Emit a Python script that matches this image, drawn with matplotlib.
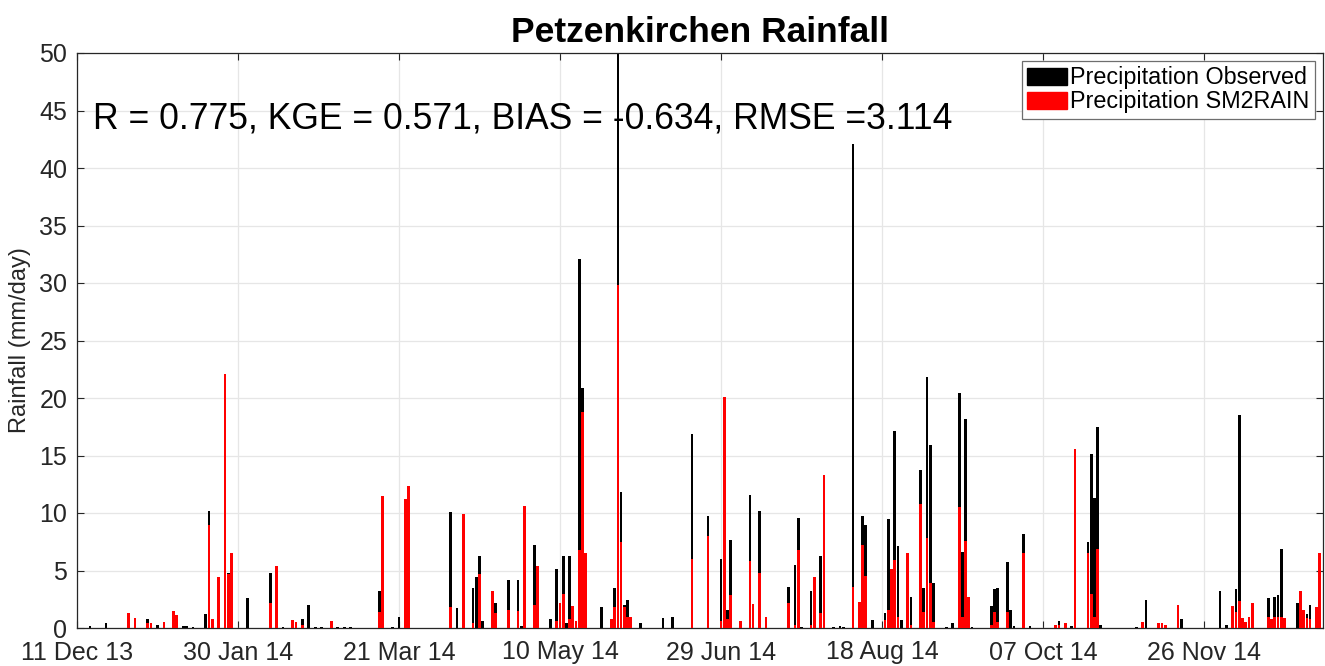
import numpy as np
import matplotlib
matplotlib.use("Agg")
import matplotlib.pyplot as plt
import matplotlib.dates as mdates
from matplotlib.patches import Patch

# ---------------- data ----------------
start_date = "2013-12-11"
n_days_axis = 387

# day offset from start date, observed rainfall, SM2RAIN rainfall (mm/day)
day_offset = [4, 9, 16, 18, 22, 23, 25, 27, 30, 31, 33, 34, 36, 40, 41, 42, 44, 46, 47, 48,
              53, 60, 62, 64, 67, 68, 70, 72, 74, 76, 79, 81, 83, 85, 94, 95, 98, 100, 102, 103,
              116, 118, 120, 123, 124, 125, 126, 129, 130, 134, 137, 138, 139, 142, 143, 147, 149, 150, 151, 152,
              153, 154, 155, 156, 157, 158, 163, 166, 167, 168, 169, 170, 171, 172, 175, 182, 185, 191, 196, 200,
              201, 202, 203, 206, 209, 210, 212, 214, 221, 223, 224, 225, 228, 229, 231, 232, 235, 237, 238, 241,
              243, 244, 245, 247, 251, 252, 253, 254, 255, 256, 258, 259, 262, 263, 264, 265, 266, 270, 272, 274,
              275, 276, 277, 278, 284, 285, 286, 289, 290, 291, 294, 296, 304, 305, 307, 309, 310, 314, 315, 316,
              317, 318, 329, 331, 332, 336, 337, 338, 342, 343, 355, 357, 359, 360, 361, 362, 363, 364, 365, 370,
              371, 372, 373, 374, 375, 379, 380, 381, 382, 383, 385, 386]

observed = [0.2, 0.45, 0.0, 0.0, 0.8, 0.0, 0.3, 0.0, 0.0, 0.0, 0.2, 0.2, 0.1, 1.2, 10.2, 0.0, 0.0, 0.0, 4.8, 0.0,
            2.6, 4.8, 0.0, 0.1, 0.0, 0.0, 0.8, 2.0, 0.1, 0.1, 0.0, 0.1, 0.1, 0.1, 3.2, 0.0, 0.1, 1.0, 0.0, 0.0,
            10.1, 1.7, 0.0, 3.5, 4.4, 6.3, 0.6, 0.0, 2.15, 4.2, 4.2, 0.2, 0.0, 7.2, 0.0, 0.8, 5.1, 0.0, 6.3, 0.4,
            6.3, 0.0, 0.0, 32.1, 20.9, 0.0, 1.8, 0.0, 3.5, 55.0, 11.8, 2.0, 2.4, 0.0, 0.4, 0.9, 1.0, 16.9, 9.7, 6.0,
            1.6, 1.6, 7.65, 0.0, 11.6, 2.1, 10.2, 0.0, 3.6, 5.5, 9.6, 0.1, 3.2, 0.0, 6.3, 0.0, 0.1, 0.2, 0.1, 42.1,
            0.0, 9.7, 9.0, 0.7, 1.3, 9.45, 2.0, 17.1, 7.1, 0.7, 0.0, 2.7, 13.7, 3.5, 21.8, 15.9, 3.9, 0.1, 0.4, 20.4,
            6.6, 18.2, 0.0, 0.1, 1.9, 3.4, 3.5, 5.7, 1.6, 0.2, 8.2, 0.2, 0.0, 0.6, 0.0, 0.2, 0.0, 7.5, 15.1, 11.3,
            17.5, 0.3, 0.1, 0.1, 2.4, 0.0, 0.0, 0.0, 0.0, 0.75, 3.2, 0.3, 0.0, 3.4, 18.5, 0.0, 0.0, 0.0, 0.0, 2.6,
            0.0, 2.7, 2.9, 6.9, 0.0, 2.2, 0.0, 0.0, 1.2, 2.0, 0.0, 0.0]

sm2rain = [0.0, 0.0, 1.3, 0.9, 0.4, 0.4, 0.0, 0.5, 1.5, 1.1, 0.0, 0.0, 0.0, 0.0, 9.0, 0.8, 4.4, 22.1, 4.7, 6.5,
           0.0, 2.15, 5.4, 0.0, 0.7, 0.5, 0.3, 0.0, 0.0, 0.0, 0.6, 0.0, 0.0, 0.0, 1.4, 11.5, 0.0, 0.0, 11.2, 12.35,
           1.8, 0.0, 9.9, 0.4, 0.0, 4.7, 0.0, 3.2, 1.3, 1.6, 1.5, 0.0, 10.6, 2.0, 5.4, 0.0, 0.6, 2.2, 3.0, 0.0,
           0.8, 1.9, 0.6, 6.8, 18.8, 6.5, 0.0, 0.8, 1.8, 29.8, 7.5, 1.8, 1.0, 1.0, 0.0, 0.0, 0.0, 6.0, 8.0, 0.6,
           20.1, 0.8, 2.87, 0.6, 5.8, 2.1, 4.8, 1.0, 2.2, 0.3, 6.8, 0.0, 0.3, 4.4, 1.3, 13.3, 0.0, 0.0, 0.0, 3.6,
           2.3, 7.2, 4.5, 0.0, 0.7, 1.6, 5.1, 5.9, 1.0, 0.0, 6.5, 0.3, 10.8, 1.4, 7.8, 3.9, 0.5, 0.0, 0.0, 10.5,
           1.0, 7.6, 2.7, 0.0, 0.3, 1.4, 0.5, 1.4, 0.0, 0.0, 6.5, 0.0, 0.3, 0.3, 0.4, 0.0, 15.6, 6.5, 3.0, 1.0,
           6.9, 0.0, 0.0, 0.5, 0.0, 0.4, 0.4, 0.3, 2.0, 0.0, 0.0, 0.0, 1.9, 1.4, 2.35, 0.9, 0.5, 1.0, 2.2, 1.0,
           0.8, 1.0, 1.0, 1.0, 0.9, 0.0, 3.2, 1.6, 0.9, 0.8, 1.8, 6.5]

title_text = "Petzenkirchen Rainfall"
stats_text = "R = 0.775, KGE = 0.571, BIAS = -0.634, RMSE =3.114"
ylabel_text = "Rainfall (mm/day)"
legend_labels = ["Precipitation Observed", "Precipitation SM2RAIN"]
yticks = [0, 5, 10, 15, 20, 25, 30, 35, 40, 45, 50]
xtick_step_days = 50

# ---------------- plotting ----------------
plt.rcParams['font.family'] = ['Liberation Sans', 'DejaVu Sans']

t0 = np.datetime64(start_date)
dates = (t0 + np.array(day_offset).astype('timedelta64[D]')).astype('datetime64[D]').astype(object)

fig = plt.figure(figsize=(13.25, 6.66), dpi=100)
ax = fig.add_axes([77 / 1325, 1 - 628 / 666, 1246 / 1325, 575 / 666])

ax.bar(dates, observed, width=0.85, color='black', linewidth=0, zorder=2)
ax.bar(dates, sm2rain, width=0.85, color='#ff0000', linewidth=0, zorder=3)

xt = [(t0 + np.timedelta64(k, 'D')).astype(object) for k in range(0, n_days_axis, xtick_step_days)]
ax.set_xticks(xt)
ax.xaxis.set_major_formatter(mdates.DateFormatter('%d %b %y'))
ax.set_xlim(t0.astype(object), (t0 + np.timedelta64(n_days_axis, 'D')).astype(object))
ax.set_ylim(0, 50)
ax.set_yticks(yticks)

ax.grid(True, color='#e6e6e6', linewidth=0.9, zorder=0)
ax.set_axisbelow(True)
ax.tick_params(direction='in', top=True, right=True, length=5, width=0.8,
               labelsize=18, colors='#262626')
ax.tick_params(axis='x', pad=9)
ax.tick_params(axis='y', pad=7)
for s in ax.spines.values():
    s.set_color('#262626')
    s.set_linewidth(0.9)

ax.set_ylabel(ylabel_text, fontsize=17, color='#262626', labelpad=6)
ax.set_title(title_text, fontsize=25.5, fontweight='bold', pad=8)

ax.text(16 / 1246, 44.3 / 50, stats_text, transform=ax.transAxes, fontsize=25.6,
        va='center', ha='left', color='black', zorder=5)

handles = [Patch(facecolor='black', edgecolor='black'), Patch(facecolor='#ff0000', edgecolor='#ff0000')]
leg = ax.legend(handles, legend_labels, loc='upper right', fontsize=16.8, frameon=True,
                fancybox=False, framealpha=1, edgecolor='#6e6e6e',
                handlelength=1.7, handleheight=0.75, handletextpad=0.15,
                borderpad=0.22, borderaxespad=0.35, labelspacing=0.05)
leg.get_frame().set_linewidth(0.9)

fig.savefig('out.png', dpi=100)
